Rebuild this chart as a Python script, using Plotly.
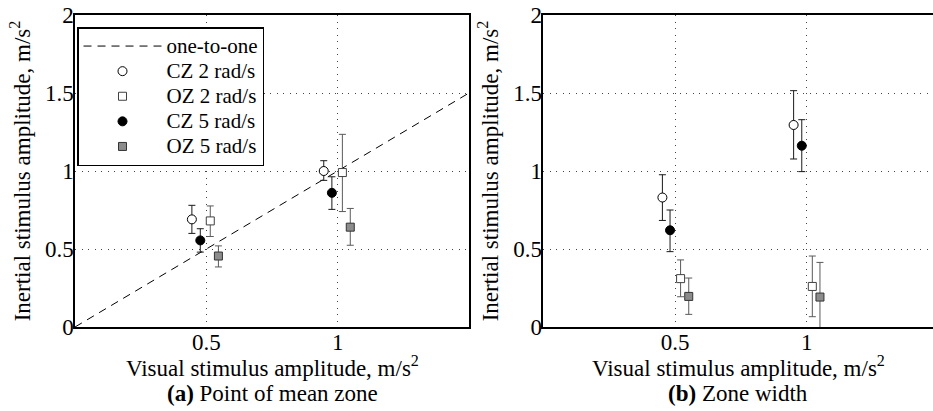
import plotly.graph_objects as go

# ---------------- data ----------------
one_x = [0, 1.5]
one_y = [0, 1.5]

# (a) Point of mean zone
a_cz2_x = [0.445, 0.947]; a_cz2_y = [0.69, 1.00];  a_cz2_hi = [0.78, 1.066]; a_cz2_lo = [0.60, 0.94]
a_oz2_x = [0.515, 1.018]; a_oz2_y = [0.68, 0.99];  a_oz2_hi = [0.776, 1.235]; a_oz2_lo = [0.58, 0.74]
a_cz5_x = [0.477, 0.978]; a_cz5_y = [0.555, 0.86]; a_cz5_hi = [0.63, 0.963]; a_cz5_lo = [0.48, 0.754]
a_oz5_x = [0.546, 1.048]; a_oz5_y = [0.455, 0.64]; a_oz5_hi = [0.52, 0.76];  a_oz5_lo = [0.385, 0.524]

# (b) Zone width
b_cz2_x = [0.452, 0.950]; b_cz2_y = [0.83, 1.295]; b_cz2_hi = [0.976, 1.515]; b_cz2_lo = [0.683, 1.077]
b_cz5_x = [0.481, 0.981]; b_cz5_y = [0.62, 1.162]; b_cz5_hi = [0.75, 1.329];  b_cz5_lo = [0.483, 0.996]
b_oz2_x = [0.521, 1.021]; b_oz2_y = [0.31, 0.26];  b_oz2_hi = [0.43, 0.455];  b_oz2_lo = [0.194, 0.066]
b_oz5_x = [0.552, 1.050]; b_oz5_y = [0.196, 0.192]; b_oz5_hi = [0.314, 0.414]; b_oz5_lo = [0.081, -0.05]

x_ticks = [0.5, 1]
x_tick_text = ["0.5", "1"]
y_ticks = [0, 0.5, 1, 1.5, 2]
y_tick_text = ["0", "0.5", "1", "1.5", "2"]

names = ["CZ 2 rad/s", "OZ 2 rad/s", "CZ 5 rad/s", "OZ 5 rad/s"]
line_name = "one-to-one"

FONT = "Liberation Serif"
FS = 23
LEG_FS = 21

styles = {
    "CZ 2 rad/s": dict(symbol="circle", size=9, color="white", line=dict(color="black", width=1), err="#1a1a1a"),
    "OZ 2 rad/s": dict(symbol="square", size=8, color="white", line=dict(color="#404040", width=1), err="#5a5a5a"),
    "CZ 5 rad/s": dict(symbol="circle", size=9, color="black", line=dict(color="black", width=1), err="#1a1a1a"),
    "OZ 5 rad/s": dict(symbol="square", size=8, color="#8c8c8c", line=dict(color="#333333", width=1), err="#5a5a5a"),
}

def leg(txt):
    return f'<span style="font-size:{LEG_FS}px">{txt}</span>'

fig = go.Figure()

fig.add_trace(go.Scatter(x=one_x, y=one_y, mode="lines", name=leg(line_name),
                         line=dict(color="black", width=1, dash="8px,6px"),
                         xaxis="x", yaxis="y", showlegend=True))

def add_series(x, y, hi, lo, name, xa, ya, show):
    s = styles[name]
    plus = [h - v for h, v in zip(hi, y)]
    minus = [v - l for v, l in zip(y, lo)]
    fig.add_trace(go.Scatter(
        x=x, y=y, mode="markers", name=leg(name), xaxis=xa, yaxis=ya, showlegend=show,
        marker=dict(symbol=s["symbol"], size=s["size"], color=s["color"], line=s["line"]),
        error_y=dict(type="data", symmetric=False, array=plus, arrayminus=minus,
                     color=s["err"], thickness=1, width=3.5),
    ))

add_series(a_cz2_x, a_cz2_y, a_cz2_hi, a_cz2_lo, names[0], "x", "y", True)
add_series(a_oz2_x, a_oz2_y, a_oz2_hi, a_oz2_lo, names[1], "x", "y", True)
add_series(a_cz5_x, a_cz5_y, a_cz5_hi, a_cz5_lo, names[2], "x", "y", True)
add_series(a_oz5_x, a_oz5_y, a_oz5_hi, a_oz5_lo, names[3], "x", "y", True)

add_series(b_cz2_x, b_cz2_y, b_cz2_hi, b_cz2_lo, names[0], "x2", "y2", False)
add_series(b_oz2_x, b_oz2_y, b_oz2_hi, b_oz2_lo, names[1], "x2", "y2", False)
add_series(b_cz5_x, b_cz5_y, b_cz5_hi, b_cz5_lo, names[2], "x2", "y2", False)
add_series(b_oz5_x, b_oz5_y, b_oz5_hi, b_oz5_lo, names[3], "x2", "y2", False)

W, H = 933, 411
PT, PB = 15, 327
PH = PB - PT
grid = dict(showgrid=True, gridcolor="#444444", gridwidth=1, griddash="1px,5.5px")
axline = dict(showline=True, linecolor="black", linewidth=1.5, zeroline=False,
              ticks="", ticklen=0, automargin=False,
              tickfont=dict(family=FONT, size=FS, color="black"))

ytitle = dict(text="Inertial stimulus amplitude, m/s<sup>2</sup>",
              font=dict(family=FONT, size=FS, color="black"), standoff=8)

xlab = "Visual stimulus amplitude, m/s<sup>2</sup>"

fig.update_layout(
    width=W, height=H,
    margin=dict(l=0, r=0, t=PT, b=H - PB),
    paper_bgcolor="white", plot_bgcolor="white",
    font=dict(family=FONT, size=FS, color="black"),
    xaxis=dict(domain=[75 / W, 469 / W], range=[0, 1.5], tickvals=x_ticks, ticktext=x_tick_text,
               mirror=True, ticklabelstandoff=-6, **grid, **axline),
    yaxis=dict(domain=[0, 1], range=[0, 2], tickvals=y_ticks, ticktext=y_tick_text,
               mirror=True, title=ytitle, anchor="x", ticklabelstandoff=-5, **grid, **axline),
    xaxis2=dict(domain=[543.3 / W, 1], range=[0, 1.479], tickvals=x_ticks, ticktext=x_tick_text,
                mirror=True, anchor="y2", ticklabelstandoff=-6, **grid, **axline),
    yaxis2=dict(domain=[0, 1], range=[0, 2], tickvals=y_ticks, ticktext=y_tick_text,
                mirror=False, title=ytitle, anchor="x2", ticklabelstandoff=-5, **grid, **axline),
    legend=dict(x=77 / W, y=1 - 12 / PH, xanchor="left", yanchor="top",
                bgcolor="white", bordercolor="black", borderwidth=1.5,
                font=dict(family=FONT, size=17, color="black"),
                itemwidth=78, tracegroupgap=0),
    showlegend=True,
    annotations=[
        dict(text=xlab, xref="paper", yref="paper",
             x=272 / W, y=-(366 - PB) / PH, xanchor="center", yanchor="middle", showarrow=False,
             font=dict(family=FONT, size=FS, color="black")),
        dict(text=xlab, xref="paper", yref="paper",
             x=738 / W, y=-(366 - PB) / PH, xanchor="center", yanchor="middle", showarrow=False,
             font=dict(family=FONT, size=FS, color="black")),
        dict(text="<b>(a)</b> Point of mean zone", xref="paper", yref="paper",
             x=272 / W, y=-(394 - PB) / PH, xanchor="center", yanchor="middle", showarrow=False,
             font=dict(family=FONT, size=FS, color="black")),
        dict(text="<b>(b)</b> Zone width", xref="paper", yref="paper",
             x=738 / W, y=-(394 - PB) / PH, xanchor="center", yanchor="middle", showarrow=False,
             font=dict(family=FONT, size=FS, color="black")),
    ],
)

fig.write_html("out.html", config={"displayModeBar": False},
               post_script="document.body.style.margin='0';document.body.style.padding='0';")
